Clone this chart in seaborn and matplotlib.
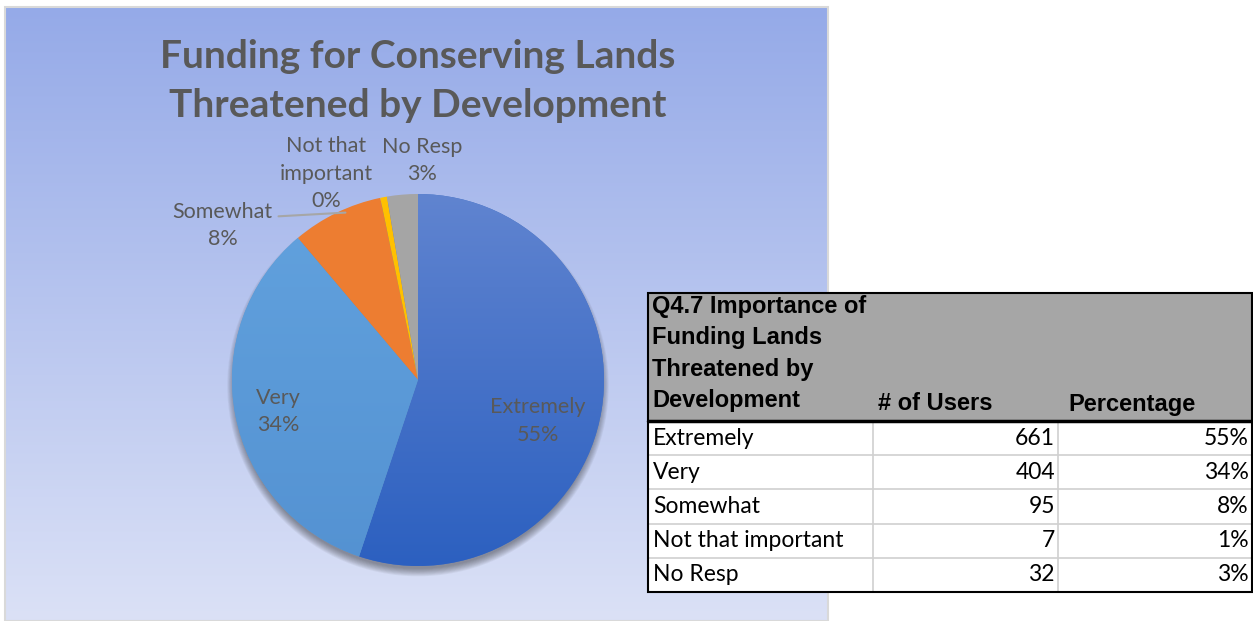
import numpy as np
import matplotlib.pyplot as plt
import matplotlib.patches as mpatches
import seaborn as sns

# data
categories = ["Extremely", "Very", "Somewhat", "Not that important", "No Resp"]
users = [661, 404, 95, 7, 32]
table_pct = ["55%", "34%", "8%", "1%", "3%"]
pie_names = ["Extremely", "Very", "Somewhat", "Not that\nimportant", "No Resp"]
pie_pct = ["55%", "34%", "8%", "0%", "3%"]
chart_title = "Funding for Conserving Lands\nThreatened by Development"
header_lines = ["Q4.7 Importance of", "Funding Lands", "Threatened by", "Development"]
col_titles = ["# of Users", "Percentage"]

sns.set_theme(style="white")
plt.rcParams["font.family"] = ["Lato", "DejaVu Sans"]

W, H = 1253, 621
fig = plt.figure(figsize=(W / 100, H / 100), dpi=100, facecolor="white")

# full-figure axes in pixel units for the panel and the table
bg = fig.add_axes([0, 0, 1, 1])
bg.set_xlim(0, W)
bg.set_ylim(H, 0)
bg.axis("off")

# chart area with vertical gradient
top = np.array([149, 170, 232]) / 255
bot = np.array([219, 225, 246]) / 255
t = np.linspace(0, 1, 256)[:, None, None]
grad = top * (1 - t) + bot * t
bg.imshow(grad, extent=[5, 828, 621, 7], aspect="auto", zorder=0)
bg.add_patch(mpatches.Rectangle((5, 7), 823, 614, fill=False, ec="#D9D9D9", lw=1.5, zorder=1))
bg.set_xlim(0, W)
bg.set_ylim(H, 0)

bg.text(418, 81, chart_title, ha="center", va="center", fontsize=28, fontweight="bold",
        color="#595959", linespacing=1.45, zorder=2)

# pie
cx, cy, r = 418, 380, 186
pax = fig.add_axes([(cx - r) / W, (H - cy - r) / H, 2 * r / W, 2 * r / H])
pax.axis("off")

# soft shadow under the pie
for k in range(10):
    pax.add_patch(mpatches.Circle((0, -0.03), 0.985 + k * 0.0045, color="#202020", alpha=0.05,
                                  lw=0, zorder=0, clip_on=False))

colors = ["#4472C4", "#5B9BD5", "#ED7D31", "#FFC000", "#A5A5A5"]
wedges, _ = pax.pie(users, colors=colors, startangle=90, counterclock=False,
                    wedgeprops=dict(linewidth=0), radius=1)
for w in wedges:
    w.set_zorder(2)


def shade(wedge, c_top, c_bot):
    a = np.array(c_top) / 255
    b = np.array(c_bot) / 255
    g = a * (1 - t) + b * t
    im = pax.imshow(g, extent=[-1, 1, -1, 1], aspect="auto", zorder=3)
    im.set_clip_path(wedge)


shade(wedges[0], (96, 132, 208), (44, 96, 192))
shade(wedges[1], (98, 162, 222), (84, 146, 210))
pax.set_xlim(-1, 1)
pax.set_ylim(-1, 1)

label_pos = [(0.645, -0.22), (-0.75, -0.17), (-1.05, 0.83), (-0.495, 1.11), (0.02, 1.18)]
for name, pct, (lx, ly) in zip(pie_names, pie_pct, label_pos):
    pax.text(lx, ly, f"{name}\n{pct}", ha="center", va="center", fontsize=15.5,
             color="#595959", linespacing=1.45, zorder=5, clip_on=False)
pax.plot([-0.75, -0.39], [0.88, 0.90], color="#A6A6A6", lw=1.5, clip_on=False, zorder=4)

# table
cols_x = [648, 873, 1058, 1253]
head_top, head_bot, row_h = 293, 421, 34.2
bg.add_patch(mpatches.Rectangle((cols_x[0], head_top), cols_x[3] - cols_x[0], head_bot - head_top,
                                fc="#A6A6A6", ec="none", zorder=3))
bg.add_patch(mpatches.Rectangle((cols_x[0], head_bot), cols_x[3] - cols_x[0], row_h * len(categories),
                                fc="white", ec="none", zorder=3))
body_bot = head_bot + row_h * len(categories)
for i in range(1, len(categories)):
    y = head_bot + i * row_h
    bg.plot([cols_x[0], cols_x[3]], [y, y], color="#D0D0D0", lw=1.2, zorder=4)
for x in cols_x[1:3]:
    bg.plot([x, x], [head_bot, body_bot], color="#D0D0D0", lw=1.2, zorder=4)
bg.add_patch(mpatches.Rectangle((cols_x[0], head_top), cols_x[3] - cols_x[0] - 1, body_bot - head_top,
                                fill=False, ec="black", lw=1.5, zorder=6))
bg.plot([cols_x[0], cols_x[3]], [head_bot, head_bot], color="black", lw=2.5, zorder=6)

hfont = dict(family=["Liberation Sans", "DejaVu Sans"], fontweight="bold", fontsize=17,
             color="black", zorder=7)
for i, line in enumerate(header_lines):
    bg.text(652, 306 + i * 31.6, line, ha="left", va="center", **hfont)
bg.text(878, 404, col_titles[0], ha="left", va="center", **hfont)
bg.text(1068, 404, col_titles[1], ha="left", va="center", **hfont)

for i, (cat, n, p) in enumerate(zip(categories, users, table_pct)):
    y = head_bot + (i + 0.5) * row_h
    bg.text(653, y, cat, ha="left", va="center", fontsize=16.5, color="black", zorder=7)
    bg.text(1055, y, f"{n}", ha="right", va="center", fontsize=16.5, color="black", zorder=7)
    bg.text(1249, y, p, ha="right", va="center", fontsize=16.5, color="black", zorder=7)

fig.savefig("out.png", dpi=100, facecolor="white")
